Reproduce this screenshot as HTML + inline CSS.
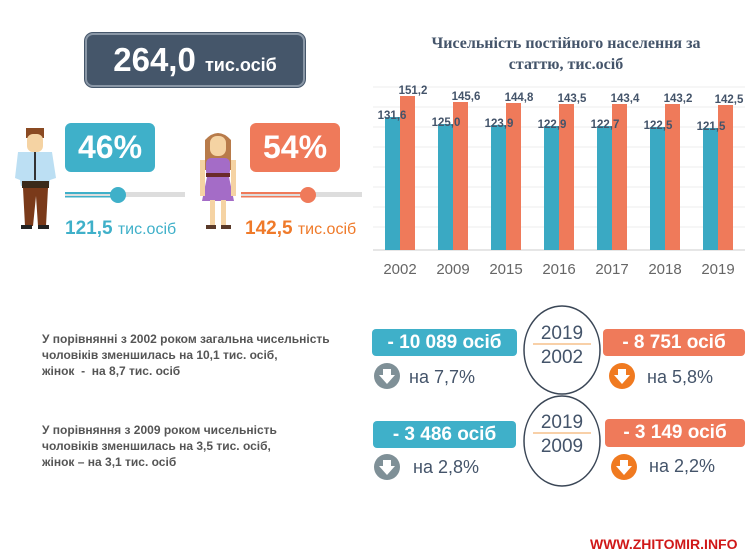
<!DOCTYPE html>
<html><head><meta charset="utf-8"><style>
body{margin:0;width:749px;height:560px;background:#fff;position:relative;overflow:hidden;font-family:"Liberation Sans",sans-serif}
.a{position:absolute;white-space:nowrap}
.t{font-weight:bold;color:#555;font-size:12px;line-height:16px}
.box{position:absolute;color:#fff;font-weight:bold;text-align:center;border-radius:4px}
</style></head><body>
<div class="box" style="left:85px;top:33px;width:216px;height:50px;background:#45566a;border:2px solid #8a97a6;border-radius:8px;line-height:50px;font-size:33px;box-shadow:0 0 0 1px #45566a">264,0 <span style="font-size:18px">тис.осіб</span></div>

<div class="box" style="left:65px;top:123px;width:90px;height:49px;background:#3fb0c9;border-radius:6px;line-height:49px;font-size:32px">46%</div>
<div class="box" style="left:250px;top:123px;width:90px;height:49px;background:#ef7a5a;border-radius:6px;line-height:49px;font-size:32px">54%</div>

<svg class="a" style="left:0;top:0" width="370" height="250">
<rect x="65" y="192" width="120" height="5" fill="#ddd"/>
<rect x="65" y="192" width="53" height="2" fill="#3fb0c9"/><rect x="65" y="196" width="53" height="1.5" fill="#3fb0c9"/>
<circle cx="118" cy="195" r="8" fill="#3fb0c9"/>
<rect x="241" y="192" width="121" height="5" fill="#ddd"/>
<rect x="241" y="192" width="67" height="2" fill="#ef7a5a"/><rect x="241" y="196" width="67" height="1.5" fill="#ef7a5a"/>
<circle cx="308" cy="195" r="8" fill="#ef7a5a"/>
<rect x="26" y="128" width="18" height="10" fill="#8a4a22"/>
<rect x="27" y="134" width="16" height="18" rx="6" fill="#f5d3a3"/>
<path d="M18 152 h34 l4 26 l-6 2 l-1 6 h-28 l-1-6 l-5-2 z" fill="#bcdff3"/>
<rect x="34" y="152" width="2" height="28" fill="#333"/>
<rect x="22" y="181" width="27" height="7" fill="#3a2a1a"/>
<path d="M23 188 h25 l-2 38 h-8 l-2-30 l-3 30 h-8 z" fill="#7a3a1a"/>
<rect x="21" y="225" width="11" height="4" fill="#222"/><rect x="38" y="225" width="11" height="4" fill="#222"/>
<path d="M205 140 q13-14 26 0 v30 h-26 z" fill="#b87b4a"/>
<rect x="210" y="136" width="16" height="20" rx="7" fill="#f5d3a3"/>
<rect x="206" y="158" width="24" height="18" rx="5" fill="#a46cc7"/>
<rect x="206" y="173" width="24" height="4" fill="#6a2a2a"/>
<path d="M207 177 h22 l5 24 h-32 z" fill="#a46cc7"/>
<rect x="200" y="160" width="5" height="36" fill="#f5d3a3"/><rect x="231" y="160" width="5" height="36" fill="#f5d3a3"/>
<rect x="210" y="200" width="5" height="26" fill="#f5d3a3"/><rect x="221" y="200" width="5" height="26" fill="#f5d3a3"/>
<rect x="206" y="225" width="10" height="4" fill="#5a3a2a"/><rect x="221" y="225" width="10" height="4" fill="#5a3a2a"/>
</svg>
<div class="a" style="left:65px;top:218px;font-size:19px;font-weight:bold;color:#3fb0c9">121,5 <span style="font-weight:normal;font-size:16px">тис.осіб</span></div>
<div class="a" style="left:245px;top:218px;font-size:19px;font-weight:bold;color:#ef7a2a">142,5 <span style="font-weight:normal;font-size:16px">тис.осіб</span></div>

<div class="a" style="left:416px;top:33px;width:300px;text-align:center;font-family:'Liberation Serif',serif;font-weight:bold;font-size:16px;line-height:21px;color:#44546a;white-space:normal">Чисельність постійного населення за<br>статтю, тис.осіб</div>

<svg class="a" style="left:365px;top:75px" width="384" height="210" font-family="Liberation Sans,sans-serif">
<g stroke="#eee" stroke-width="1">
<line x1="8" x2="380" y1="12" y2="12"/><line x1="8" x2="380" y1="32" y2="32"/><line x1="8" x2="380" y1="52" y2="52"/><line x1="8" x2="380" y1="72" y2="72"/><line x1="8" x2="380" y1="92" y2="92"/><line x1="8" x2="380" y1="112" y2="112"/><line x1="8" x2="380" y1="132" y2="132"/><line x1="8" x2="380" y1="152" y2="152"/>
</g>
<line x1="8" x2="380" y1="175" y2="175" stroke="#ccc"/>
<g fill="#3aa9c3">
<rect x="20" y="42" width="15" height="133"/><rect x="73" y="49" width="15" height="126"/><rect x="126" y="50" width="15" height="125"/><rect x="179" y="51" width="15" height="124"/><rect x="232" y="51" width="15" height="124"/><rect x="285" y="52" width="15" height="123"/><rect x="338" y="53" width="15" height="122"/>
</g>
<g fill="#ef7a5a">
<rect x="35" y="21" width="15" height="154"/><rect x="88" y="27" width="15" height="148"/><rect x="141" y="28" width="15" height="147"/><rect x="194" y="29" width="15" height="146"/><rect x="247" y="29" width="15" height="146"/><rect x="300" y="29" width="15" height="146"/><rect x="353" y="30" width="15" height="145"/>
</g>
<g font-size="11.5" font-weight="bold" fill="#44546a" text-anchor="middle">
<text x="27" y="44">131,6</text><text x="81" y="51">125,0</text><text x="134" y="52">123,9</text><text x="187" y="53">122,9</text><text x="240" y="53">122,7</text><text x="293" y="54">122,5</text><text x="346" y="55">121,5</text>
<text x="48" y="19">151,2</text><text x="101" y="25">145,6</text><text x="154" y="26">144,8</text><text x="207" y="27">143,5</text><text x="260" y="27">143,4</text><text x="313" y="27">143,2</text><text x="364" y="28">142,5</text>
</g>
<g font-size="15" fill="#666" text-anchor="middle">
<text x="35" y="199">2002</text><text x="88" y="199">2009</text><text x="141" y="199">2015</text><text x="194" y="199">2016</text><text x="247" y="199">2017</text><text x="300" y="199">2018</text><text x="353" y="199">2019</text>
</g>
</svg>

<div class="a t" style="left:42px;top:331px">У порівнянні з 2002 роком загальна чисельність<br>чоловіків зменшилась на 10,1 тис. осіб,<br>жінок &nbsp;- &nbsp;на 8,7 тис. осіб</div>
<div class="a t" style="left:42px;top:422px">У порівняння з 2009 роком чисельність<br>чоловіків зменшилась на 3,5 тис. осіб,<br>жінок – на 3,1 тис. осіб</div>

<div class="box" style="left:372px;top:329px;width:145px;height:27px;line-height:27px;font-size:19px;background:#3fb0c9">- 10 089 осіб</div>
<div class="box" style="left:603px;top:329px;width:142px;height:27px;line-height:27px;font-size:19px;background:#ef7a5a">- 8 751 осіб</div>
<div class="box" style="left:373px;top:421px;width:143px;height:27px;line-height:27px;font-size:19px;background:#3fb0c9">- 3 486 осіб</div>
<div class="box" style="left:605px;top:419px;width:140px;height:28px;line-height:28px;font-size:19px;background:#ef7a5a">- 3 149 осіб</div>

<svg class="a" style="left:360px;top:300px" width="389" height="200" font-family="Liberation Sans,sans-serif">
<ellipse cx="202" cy="50" rx="38" ry="44" fill="none" stroke="#3a4656" stroke-width="1.5"/>
<ellipse cx="202" cy="141" rx="38" ry="45" fill="none" stroke="#3a4656" stroke-width="1.5"/>
<line x1="173" x2="231" y1="44" y2="44" stroke="#f0a050"/><line x1="173" x2="231" y1="133" y2="133" stroke="#f0a050"/>
<g font-size="19" fill="#44546a" text-anchor="middle">
<text x="202" y="39">2019</text><text x="202" y="63">2002</text><text x="202" y="128">2019</text><text x="202" y="152">2009</text>
</g>
<circle cx="27" cy="76" r="13" fill="#7f9097"/><circle cx="27" cy="167" r="13" fill="#7f9097"/>
<circle cx="262" cy="76" r="13" fill="#f07a20"/><circle cx="264" cy="167" r="13" fill="#f07a20"/>
<g fill="#fff"><path d="M23 69 h8 v6 h4 l-8 9 l-8-9 h4z"/><path d="M23 160 h8 v6 h4 l-8 9 l-8-9 h4z"/><path d="M258 69 h8 v6 h4 l-8 9 l-8-9 h4z"/><path d="M260 160 h8 v6 h4 l-8 9 l-8-9 h4z"/></g>
<g font-size="18" fill="#44546a">
<text x="49" y="83">на 7,7%</text><text x="287" y="83">на 5,8%</text><text x="53" y="173">на 2,8%</text><text x="289" y="172">на 2,2%</text>
</g>
</svg>

<div class="a" style="left:590px;top:536px;font-size:14px;font-weight:bold;color:#d01818">WWW.ZHITOMIR.INFO</div>
</body></html>
